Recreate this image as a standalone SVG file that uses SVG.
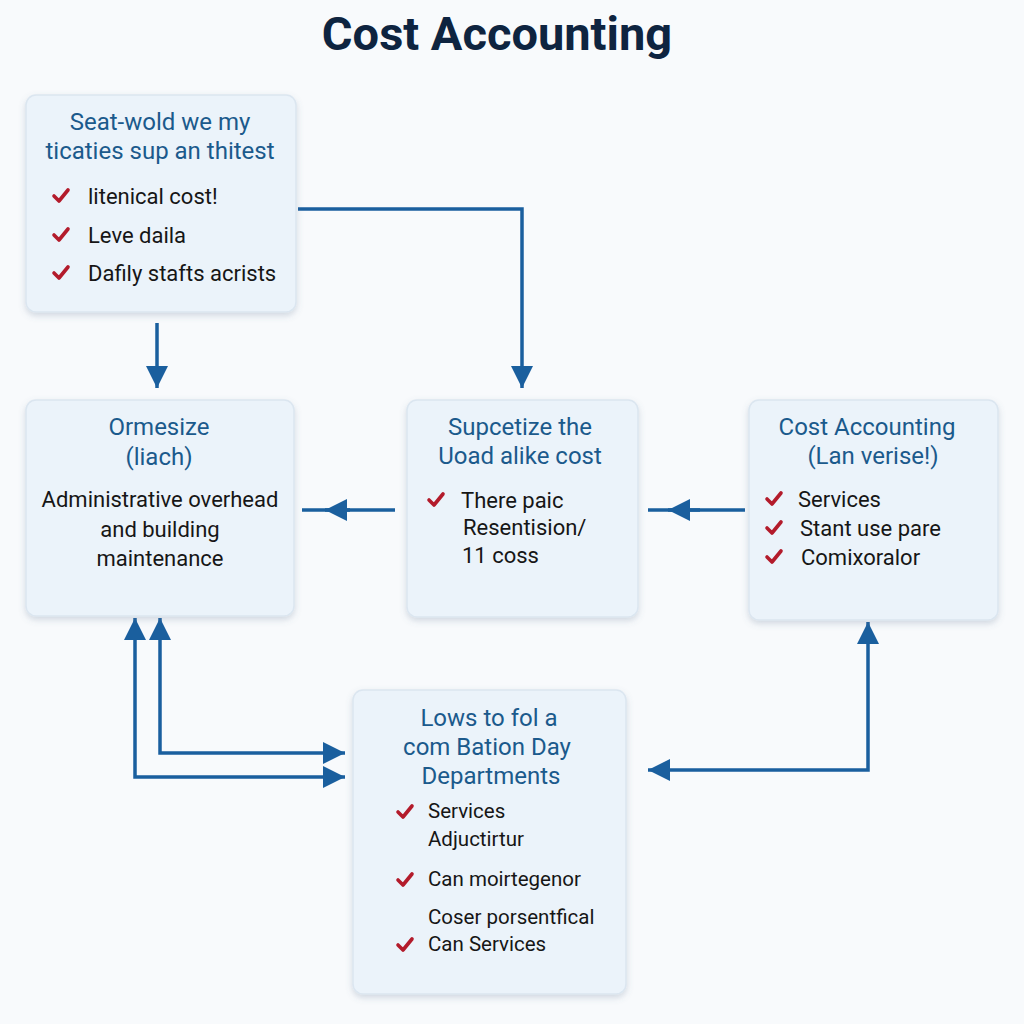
<svg xmlns="http://www.w3.org/2000/svg" width="1024" height="1024" viewBox="0 0 1024 1024">
<defs>
<style>
.box{fill:#ebf3fa;stroke:#dbe6f0;stroke-width:1.5}
.ttl{font-family:Roboto,"Liberation Sans",sans-serif;font-size:24px;font-weight:400;fill:#1b5a8c;text-anchor:middle;dominant-baseline:central}
.txt{font-family:Roboto,"Liberation Sans",sans-serif;font-size:22px;fill:#161616;dominant-baseline:central}
.sm{font-size:20.5px}
.ctr{text-anchor:middle}
.chk{fill:none;stroke:#b31b2b;stroke-width:3.6;stroke-linecap:round;stroke-linejoin:round}
.con{fill:none;stroke:#1a5f9e;stroke-width:3.5}
</style>
<filter id="sh" x="-10%" y="-10%" width="120%" height="125%">
<feDropShadow dx="0" dy="3" stdDeviation="3" flood-color="#5a7490" flood-opacity="0.25"/>
</filter>
<marker id="ab" viewBox="0 0 10 10" refX="10" refY="5" markerWidth="30" markerHeight="22" markerUnits="userSpaceOnUse" orient="auto-start-reverse">
<path d="M0,0 L10,5 L0,10 z" fill="#1a5f9e"/>
</marker>
<path id="ck" d="M-7,0 L-2,5 L7,-6"/>
</defs>
<rect width="1024" height="1024" fill="#f8fafc"/>
<text x="497" y="33" font-family="Roboto,'Liberation Sans',sans-serif" font-size="47" font-weight="bold" fill="#0e2440" text-anchor="middle" dominant-baseline="central">Cost Accounting</text>

<g id="connectors">
<path class="con" d="M298,209 H522 V388" marker-end="url(#ab)"/>
<path class="con" d="M157,323 V388" marker-end="url(#ab)"/>
<path class="con" d="M395,510 H302"/>
<path class="con" d="M350,510 H325" marker-end="url(#ab)"/>
<path class="con" d="M745,510 H648"/>
<path class="con" d="M700,510 H668" marker-end="url(#ab)"/>
<path class="con" d="M868,622 V770 H648" marker-start="url(#ab)" marker-end="url(#ab)"/>
<path class="con" d="M160,618 V753 H345" marker-start="url(#ab)" marker-end="url(#ab)"/>
<path class="con" d="M135,618 V777 H345" marker-start="url(#ab)" marker-end="url(#ab)"/>
</g>

<g id="node1">
<rect class="box" x="26" y="95" width="270" height="217" rx="10" filter="url(#sh)"/>
<text class="ttl" x="160" y="122">Seat-wold we my</text>
<text class="ttl" x="160" y="151">ticaties sup an thitest</text>
<use href="#ck" class="chk" x="61" y="196"/>
<use href="#ck" class="chk" x="61" y="235"/>
<use href="#ck" class="chk" x="61" y="273"/>
<text class="txt" x="88" y="196">litenical cost!</text>
<text class="txt" x="88" y="235">Leve daila</text>
<text class="txt" x="88" y="273">Dafily stafts acrists</text>
</g>

<g id="node2">
<rect class="box" x="26" y="400" width="268" height="216" rx="10" filter="url(#sh)"/>
<text class="ttl" x="159" y="427">Ormesize</text>
<text class="ttl" x="159" y="457">(liach)</text>
<text class="txt ctr" x="160" y="499" font-size="23">Administrative overhead</text>
<text class="txt ctr" x="160" y="529" font-size="23">and building</text>
<text class="txt ctr" x="160" y="558" font-size="23">maintenance</text>
</g>

<g id="node3">
<rect class="box" x="407" y="400" width="231" height="217" rx="10" filter="url(#sh)"/>
<text class="ttl" x="520" y="427">Supcetize the</text>
<text class="ttl" x="520" y="456">Uoad alike cost</text>
<use href="#ck" class="chk" x="436" y="500"/>
<text class="txt" x="461" y="500" font-size="21.5">There paic</text>
<text class="txt" x="463" y="527" font-size="21.5">Resentision/</text>
<text class="txt" x="462" y="555" font-size="21.5">11 coss</text>
</g>

<g id="node4">
<rect class="box" x="749" y="400" width="249" height="220" rx="10" filter="url(#sh)"/>
<text class="ttl" x="867" y="427">Cost Accounting</text>
<text class="ttl" x="873" y="456">(Lan verise!)</text>
<use href="#ck" class="chk" x="774" y="499"/>
<use href="#ck" class="chk" x="774" y="528"/>
<use href="#ck" class="chk" x="774" y="557"/>
<text class="txt" x="798" y="499">Services</text>
<text class="txt" x="800" y="528">Stant use pare</text>
<text class="txt" x="801" y="557">Comixoralor</text>
</g>

<g id="node5">
<rect class="box" x="353" y="690" width="273" height="304" rx="10" filter="url(#sh)"/>
<text class="ttl" x="489" y="718" font-size="23.5">Lows to fol a</text>
<text class="ttl" x="487" y="747" font-size="23.5">com Bation Day</text>
<text class="ttl" x="491" y="776" font-size="23.5">Departments</text>
<use href="#ck" class="chk" x="405" y="812"/>
<text class="txt sm" x="428" y="811">Services</text>
<text class="txt sm" x="428" y="839">Adjuctirtur</text>
<use href="#ck" class="chk" x="405" y="880"/>
<text class="txt sm" x="428" y="879">Can moirtegenor</text>
<text class="txt sm" x="428" y="917">Coser porsentfical</text>
<use href="#ck" class="chk" x="405" y="945"/>
<text class="txt sm" x="428" y="944">Can Services</text>
</g>
</svg>
